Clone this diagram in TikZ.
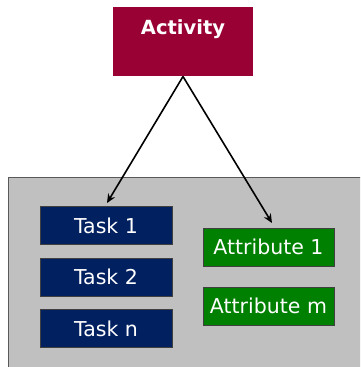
\documentclass[tikz,border=0pt]{standalone}
\usepackage{fontspec}
\setmainfont{DejaVu Sans}
\usetikzlibrary{arrows.meta}
\definecolor{actred}{HTML}{990033}
\definecolor{tasknavy}{HTML}{002060}
\definecolor{attrgreen}{HTML}{008000}
\definecolor{panelgray}{HTML}{C0C0C0}
\definecolor{edgegray}{HTML}{404040}
\tikzset{
  box/.style={draw=edgegray, line width=0.8pt, inner sep=0pt, text=white,
    font=\fontsize{20.5}{21}\selectfont},
  taskbox/.style={box, fill=tasknavy, minimum width=132pt, minimum height=38pt},
  attrbox/.style={box, fill=attrgreen, minimum width=131pt, minimum height=38pt},
  actbox/.style={fill=actred, inner sep=0pt, text=white, minimum width=140pt,
    text height=27.3pt, text depth=41.7pt, anchor=base,
    font=\fontsize{19.5}{20}\selectfont\bfseries},
  link/.style={line width=1.6pt, -{Stealth[length=9pt,width=8pt]}}
}
\begin{document}
\begin{tikzpicture}[x=1pt,y=-1pt]
  \useasboundingbox (0,0) rectangle (360,367);
  \clip (0,0) rectangle (360,367);
  % container panel
  \draw[fill=panelgray, draw=gray!70!black, line width=1pt] (8,177) rectangle (375,380);
  % activity
  \node[actbox] (act) at (183,34.3) {Activity};
  % tasks
  \node[taskbox] (t1) at (106,225.5) {Task 1};
  \node[taskbox] (t2) at (106,277) {Task 2};
  \node[taskbox] (tn) at (106,328.5) {Task n};
  % attributes
  \node[attrbox] (a1) at (268.5,247) {Attribute 1};
  \node[attrbox] (am) at (268.5,306) {Attribute m};
  % arrow ends
  \coordinate (src) at (183,76.5);
  \coordinate (tend) at (107,203);
  \coordinate (aend) at (272,223);
  \draw[link] (src) -- (tend);
  \draw[link] (src) -- (aend);
\end{tikzpicture}
\end{document}
